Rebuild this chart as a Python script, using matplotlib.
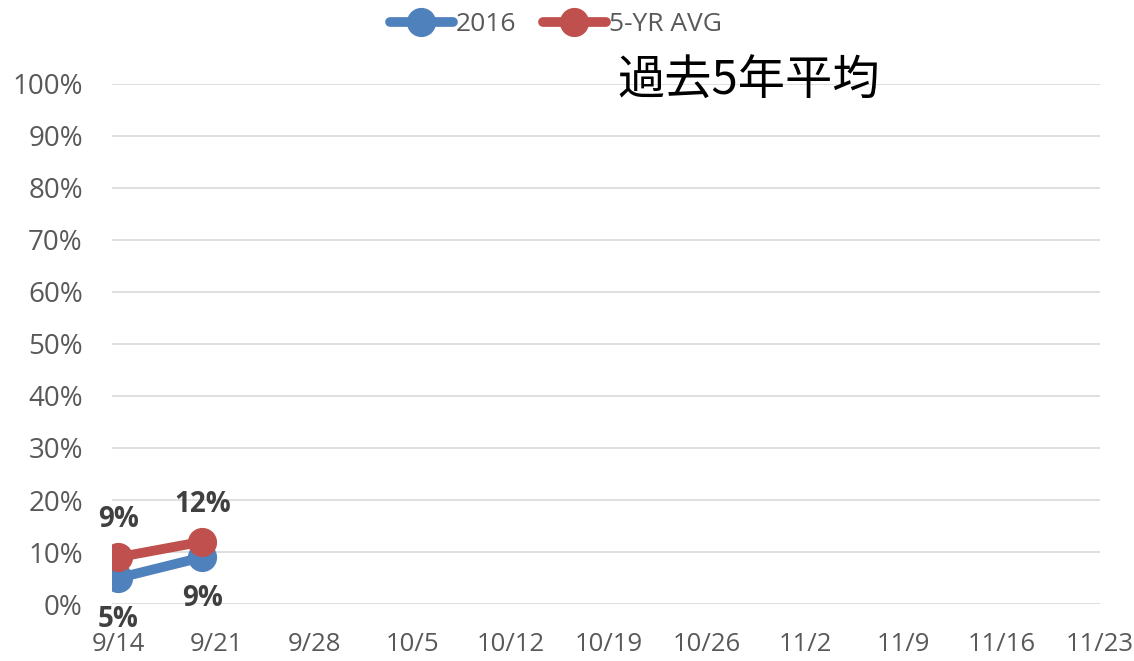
import matplotlib.pyplot as plt
from matplotlib.ticker import PercentFormatter

# weeks on the axis (days after 9/14)
tick_days = [0, 7, 14, 21, 28, 35, 42, 49, 56, 63, 70]
tick_labels = ['9/14', '9/21', '9/28', '10/5', '10/12', '10/19', '10/26',
               '11/2', '11/9', '11/16', '11/23']

# data points (days after 9/14)
point_days = [0, 6]
yr2016 = [0.05, 0.09]
avg5 = [0.09, 0.12]

blue = '#4f81bd'
red = '#c0504d'
txt = '#595959'

plt.rcParams['font.family'] = ['Open Sans', 'DejaVu Sans']

fig = plt.figure(figsize=(11.34, 6.61), dpi=100)
ax = fig.add_axes([0.0988, 0.0862, 0.8712, 0.7868])

ax.plot(point_days, yr2016, color=blue, lw=7, marker='o', ms=20,
        solid_capstyle='round', label='2016', zorder=3)
ax.plot(point_days, avg5, color=red, lw=7, marker='o', ms=20,
        solid_capstyle='round', label='5-YR AVG', zorder=3)

for x, y in zip(point_days, yr2016):
    ax.annotate(f'{y:.0%}', (x, y), xytext=(0, -30), textcoords='offset points',
                ha='center', va='center', fontsize=20, fontweight='bold',
                color='#404040')
for x, y in zip(point_days, avg5):
    ax.annotate(f'{y:.0%}', (x, y), xytext=(0, 27), textcoords='offset points',
                ha='center', va='center', fontsize=20, fontweight='bold',
                color='#404040')

ax.set_xlim(-0.45, 70)
ax.set_ylim(0, 1)
ax.set_xticks(tick_days)
ax.set_xticklabels(tick_labels)
ax.set_yticks([i / 10 for i in range(11)])
ax.yaxis.set_major_formatter(PercentFormatter(1.0, decimals=0))
ax.tick_params(length=0, labelsize=20, colors=txt)
ax.tick_params(axis='x', pad=20, labelsize=18.5)
ax.tick_params(axis='y', pad=21)
ax.grid(axis='y', color='#d9d9d9', lw=1.2)
for s in ax.spines.values():
    s.set_visible(False)
ax.set_axisbelow(True)

fig.text(0.544, 0.877, '過去5年平均', fontsize=34, color='black',
         family=['Noto Sans CJK JP', 'DejaVu Sans'], va='center')

leg = fig.legend(loc='upper center', bbox_to_anchor=(0.49, 1.018), ncol=2,
                 frameon=False, fontsize=19, handlelength=2.4,
                 handletextpad=0.1, columnspacing=1.0)
for t in leg.get_texts():
    t.set_color(txt)

fig.savefig('out.png', dpi=100)
